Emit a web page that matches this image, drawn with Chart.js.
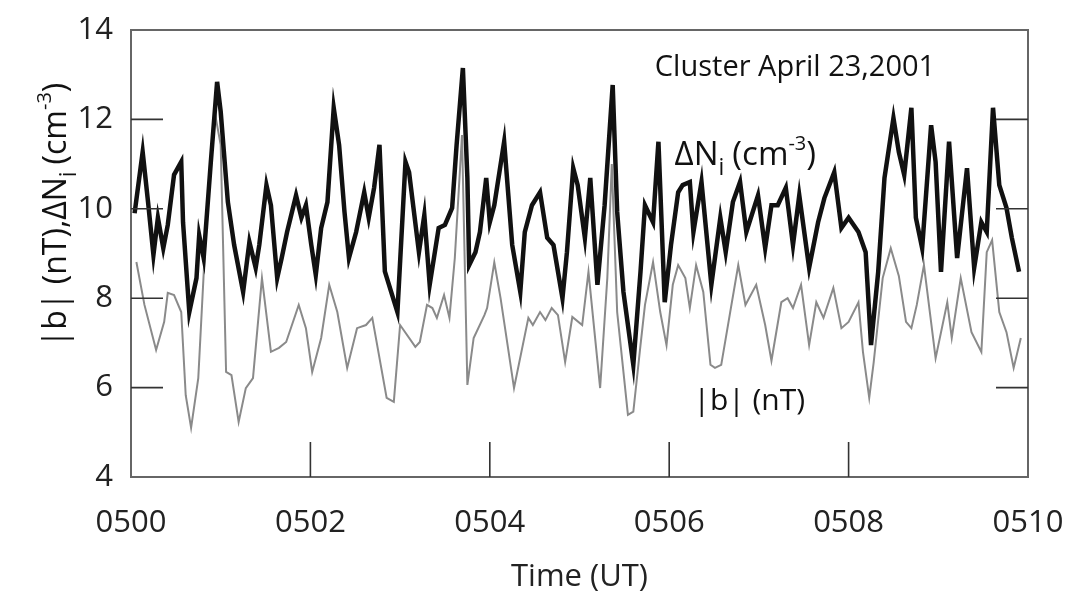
<!DOCTYPE html>
<html>
<head>
<meta charset="utf-8">
<script src="https://cdn.jsdelivr.net/npm/chart.js@4"></script>
<style>
  body { margin: 0; background: #fff; }
  canvas { display: block; }
</style>
</head>
<body>
<canvas id="chart" width="1073" height="593"></canvas>
<script>
// time in minutes after 0500 UT
const niTime = [0.04, 0.13, 0.19, 0.25, 0.30, 0.36, 0.41, 0.48, 0.56, 0.58, 0.65, 0.73, 0.76, 0.81, 0.89, 0.96, 1.00, 1.08, 1.15, 1.25, 1.32, 1.39, 1.43, 1.51, 1.56, 1.63, 1.68, 1.74, 1.84, 1.90, 1.95, 2.01, 2.06, 2.12, 2.19, 2.26, 2.32, 2.38, 2.43, 2.51, 2.60, 2.65, 2.71, 2.77, 2.83, 2.97, 3.06, 3.10, 3.21, 3.27, 3.33, 3.43, 3.50, 3.58, 3.63, 3.70, 3.75, 3.77, 3.84, 3.89, 3.96, 4.00, 4.05, 4.16, 4.25, 4.34, 4.39, 4.47, 4.56, 4.64, 4.71, 4.81, 4.86, 4.93, 4.98, 5.06, 5.12, 5.20, 5.28, 5.37, 5.42, 5.49, 5.60, 5.68, 5.73, 5.82, 5.88, 5.95, 6.02, 6.10, 6.15, 6.23, 6.27, 6.36, 6.47, 6.57, 6.63, 6.71, 6.79, 6.86, 6.99, 7.07, 7.14, 7.21, 7.30, 7.38, 7.45, 7.56, 7.66, 7.73, 7.84, 7.92, 8.00, 8.11, 8.19, 8.25, 8.33, 8.40, 8.50, 8.56, 8.62, 8.70, 8.75, 8.82, 8.92, 8.97, 9.03, 9.12, 9.21, 9.32, 9.40, 9.48, 9.54, 9.61, 9.68, 9.76, 9.82, 9.90];
const niValues = [9.9, 11.27, 10.15, 8.97, 9.8, 9.12, 9.64, 10.76, 11.05, 9.7, 7.69, 8.45, 9.41, 8.9, 11.05, 12.84, 12.17, 10.15, 9.19, 8.14, 9.26, 8.68, 9.19, 10.53, 10.08, 8.45, 8.9, 9.48, 10.3, 9.8, 10.08, 9.19, 8.52, 9.57, 10.15, 12.26, 11.43, 9.93, 8.9, 9.48, 10.37, 9.8, 10.47, 11.43, 8.6, 7.69, 11.05, 10.82, 9.03, 9.86, 8.3, 9.57, 9.64, 10.02, 11.43, 13.15, 10.69, 8.74, 9.03, 9.48, 10.69, 9.7, 10.08, 11.5, 9.19, 8.14, 9.48, 10.08, 10.37, 9.35, 9.19, 8.0, 9.03, 10.91, 10.53, 9.35, 10.69, 8.3, 10.08, 12.77, 9.93, 8.14, 6.51, 8.59, 10.08, 9.7, 11.5, 7.91, 9.19, 10.37, 10.53, 10.6, 9.48, 10.6, 8.3, 9.8, 9.03, 10.15, 10.6, 9.48, 10.3, 9.12, 10.08, 10.08, 10.47, 9.19, 10.3, 8.68, 9.7, 10.24, 10.82, 9.57, 9.8, 9.48, 9.03, 6.95, 8.59, 10.69, 12.03, 11.27, 10.76, 12.26, 9.8, 9.12, 11.87, 11.05, 8.59, 11.5, 8.9, 10.91, 8.68, 9.7, 9.48, 12.26, 10.53, 10.02, 9.35, 8.59];

const bTime = [0.06, 0.15, 0.28, 0.37, 0.41, 0.48, 0.56, 0.61, 0.67, 0.75, 0.84, 0.93, 1.00, 1.06, 1.12, 1.20, 1.28, 1.36, 1.46, 1.56, 1.65, 1.73, 1.87, 1.95, 2.02, 2.12, 2.21, 2.30, 2.41, 2.52, 2.62, 2.69, 2.85, 2.93, 3.00, 3.17, 3.22, 3.30, 3.36, 3.41, 3.49, 3.55, 3.61, 3.69, 3.75, 3.82, 3.94, 3.97, 4.05, 4.12, 4.27, 4.43, 4.48, 4.56, 4.62, 4.69, 4.76, 4.84, 4.92, 5.03, 5.10, 5.23, 5.31, 5.36, 5.42, 5.54, 5.60, 5.68, 5.73, 5.82, 5.90, 5.97, 6.04, 6.10, 6.18, 6.23, 6.30, 6.38, 6.46, 6.51, 6.58, 6.68, 6.77, 6.85, 6.97, 7.07, 7.14, 7.25, 7.32, 7.38, 7.47, 7.56, 7.64, 7.72, 7.83, 7.92, 8.00, 8.11, 8.16, 8.23, 8.28, 8.38, 8.47, 8.56, 8.64, 8.70, 8.76, 8.84, 8.97, 9.10, 9.15, 9.25, 9.37, 9.48, 9.54, 9.60, 9.68, 9.76, 9.84, 9.92];
const bValues = [8.81, 7.85, 6.84, 7.47, 8.12, 8.07, 7.69, 5.83, 5.1, 6.21, 9.7, 12.2, 11.43, 6.35, 6.28, 5.23, 5.99, 6.21, 8.45, 6.8, 6.89, 7.02, 7.85, 7.33, 6.35, 7.11, 8.3, 7.69, 6.44, 7.33, 7.4, 7.56, 5.77, 5.68, 7.4, 6.91, 7.02, 7.85, 7.78, 7.56, 8.07, 7.56, 8.9, 11.65, 6.06, 7.11, 7.62, 7.78, 8.8, 8.0, 5.99, 7.56, 7.4, 7.69, 7.51, 7.78, 7.62, 6.57, 7.58, 7.4, 8.59, 5.99, 8.45, 11.0, 7.69, 5.39, 5.46, 6.95, 7.85, 8.81, 7.69, 6.95, 8.3, 8.74, 8.45, 7.78, 8.74, 8.14, 6.51, 6.44, 6.51, 7.69, 8.74, 7.85, 8.3, 7.4, 6.6, 7.91, 8.0, 7.78, 8.3, 6.95, 7.91, 7.56, 8.23, 7.33, 7.47, 7.91, 6.8, 5.77, 6.57, 8.45, 9.12, 8.5, 7.47, 7.33, 7.85, 8.74, 6.66, 7.91, 7.11, 8.45, 7.24, 6.8, 9.03, 9.3, 7.69, 7.24, 6.44, 7.11];

const timeTicks = [0, 2, 4, 6, 8, 10];
const timeLabels = ['0500', '0502', '0504', '0506', '0508', '0510'];
const valueTicks = [4, 6, 8, 10, 12, 14];

const FONT = '"Open Sans", "Noto Sans", sans-serif';

function toPoints(xs, ys) {
    return xs.map((x, i) => ({ x: x, y: ys[i] }));
}

// draw a run of text pieces, some lowered (sub) or raised (sup)
function drawRich(ctx, parts, x, y) {
    let cx = x;
    parts.forEach(p => {
        ctx.font = p.size + 'px ' + FONT;
        ctx.fillText(p.t, cx, y + (p.dy || 0));
        cx += ctx.measureText(p.t).width + (p.gap || 0);
    });
}

function richWidth(ctx, parts) {
    let w = 0;
    parts.forEach(p => {
        ctx.font = p.size + 'px ' + FONT;
        w += ctx.measureText(p.t).width + (p.gap || 0);
    });
    return w;
}

const framePlugin = {
    id: 'frame',
    afterDraw(chart) {
        const ctx = chart.ctx;
        const a = chart.chartArea;
        const xs = chart.scales.x;
        const ys = chart.scales.y;
        ctx.save();
        ctx.strokeStyle = '#666';
        ctx.lineWidth = 2;
        ctx.strokeRect(a.left, a.top, a.right - a.left, a.bottom - a.top);

        // inward ticks
        ctx.lineWidth = 1.6;
        ctx.strokeStyle = '#333';
        ctx.beginPath();
        valueTicks.slice(1, -1).forEach(v => {
            const py = ys.getPixelForValue(v);
            ctx.moveTo(a.left, py);
            ctx.lineTo(a.left + 32, py);
            ctx.moveTo(a.right - 32, py);
            ctx.lineTo(a.right, py);
        });
        timeTicks.slice(1, -1).forEach(t => {
            const px = xs.getPixelForValue(t);
            ctx.moveTo(px, a.bottom);
            ctx.lineTo(px, a.bottom - 35);
        });
        ctx.stroke();

        ctx.fillStyle = '#111';
        ctx.textBaseline = 'alphabetic';

        // title inside the plot
        drawRich(ctx, [{ t: 'Cluster April 23,2001', size: 29 }],
            xs.getPixelForValue(5.84), ys.getPixelForValue(12.97));

        // curve labels
        drawRich(ctx, [
            { t: 'ΔN', size: 33 },
            { t: 'i', size: 23, dy: 10, gap: 8 },
            { t: '(cm', size: 33 },
            { t: '-3', size: 20, dy: -15 },
            { t: ')', size: 33 }
        ], xs.getPixelForValue(6.06), ys.getPixelForValue(10.98));
        drawRich(ctx, [{ t: '|b| (nT)', size: 30 }],
            xs.getPixelForValue(6.27), ys.getPixelForValue(5.5));

        // rotated y-axis title
        const yParts = [
            { t: '|b| (nT),ΔN', size: 32 },
            { t: 'i', size: 23, dy: 10, gap: 7 },
            { t: '(cm', size: 32 },
            { t: '-3', size: 20, dy: -15 },
            { t: ')', size: 32 }
        ];
        ctx.translate(66, 215);
        ctx.rotate(-Math.PI / 2);
        drawRich(ctx, yParts, -richWidth(ctx, yParts) / 2, 0);
        ctx.restore();
    }
};

new Chart(document.getElementById('chart'), {
    type: 'line',
    data: {
        datasets: [
            {
                label: 'dNi',
                data: toPoints(niTime, niValues),
                borderColor: '#111',
                borderWidth: 4.5,
                pointRadius: 0,
                tension: 0
            },
            {
                label: 'b',
                data: toPoints(bTime, bValues),
                borderColor: '#8a8a8a',
                borderWidth: 2,
                pointRadius: 0,
                tension: 0
            }
        ]
    },
    options: {
        responsive: false,
        animation: false,
        devicePixelRatio: 1,
        layout: { padding: { top: 30, right: 45, left: 0, bottom: 0 } },
        plugins: {
            legend: { display: false },
            tooltip: { enabled: false }
        },
        scales: {
            x: {
                type: 'linear',
                min: 0,
                max: 10,
                grid: { display: false, drawTicks: false },
                border: { display: false },
                afterBuildTicks: scale => { scale.ticks = timeTicks.map(v => ({ value: v })); },
                afterFit: scale => {
                    scale.height = 116;
                    scale.paddingLeft = 0;
                    scale.paddingRight = 0;
                },
                ticks: {
                    padding: 28,
                    color: '#222',
                    font: { family: FONT, size: 31 },
                    callback: (v, i) => timeLabels[i]
                },
                title: {
                    display: true,
                    text: 'Time (UT)',
                    color: '#222',
                    font: { family: FONT, size: 31 },
                    padding: { top: 0, bottom: -3 }
                }
            },
            y: {
                min: 4,
                max: 14,
                grid: { display: false, drawTicks: false },
                border: { display: false },
                afterBuildTicks: scale => { scale.ticks = valueTicks.map(v => ({ value: v })); },
                afterFit: scale => {
                    scale.width = 131;
                    scale.paddingTop = 0;
                    scale.paddingBottom = 0;
                },
                ticks: {
                    padding: 18,
                    color: '#222',
                    font: { family: FONT, size: 31 }
                }
            }
        }
    },
    plugins: [framePlugin]
});
</script>
</body>
</html>
